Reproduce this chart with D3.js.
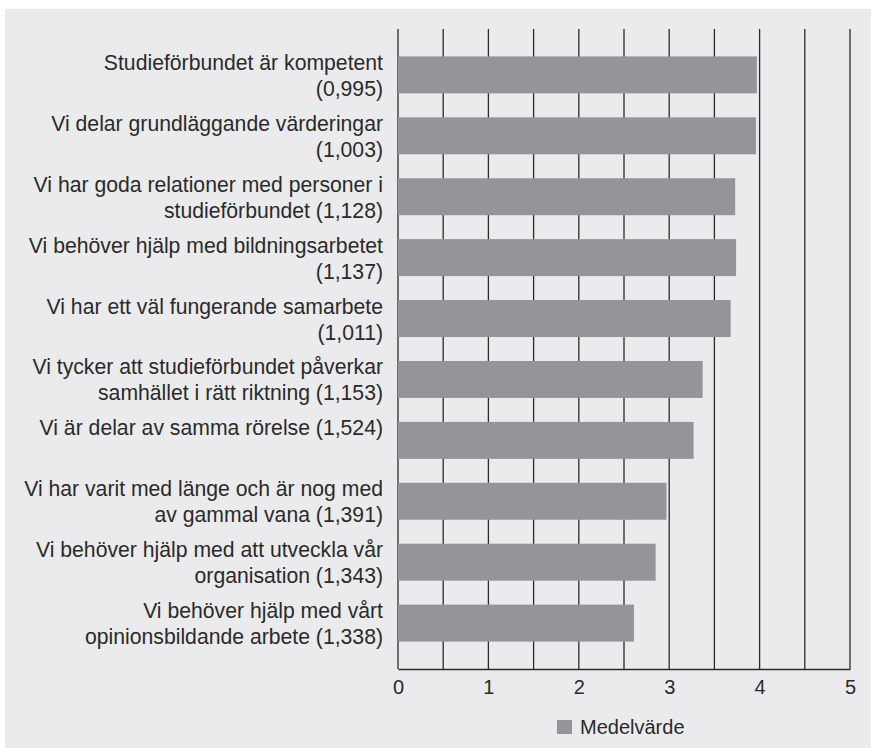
<!DOCTYPE html>
<html>
<head>
<meta charset="utf-8">
<script src="https://cdn.jsdelivr.net/npm/d3@7"></script>
<style>
  body { margin: 0; background: #fff; }
  text { font-family: "Liberation Sans", Arial, sans-serif; fill: #2a2a2a; }
</style>
</head>
<body>
<svg></svg>
<script>
const labels = [
  ['Studieförbundet är kompetent', '(0,995)'],
  ['Vi delar grundläggande värderingar', '(1,003)'],
  ['Vi har goda relationer med personer i', 'studieförbundet (1,128)'],
  ['Vi behöver hjälp med bildningsarbetet', '(1,137)'],
  ['Vi har ett väl fungerande samarbete', '(1,011)'],
  ['Vi tycker att studieförbundet påverkar', 'samhället i rätt riktning (1,153)'],
  ['Vi är delar av samma rörelse (1,524)'],
  ['Vi har varit med länge och är nog med', 'av gammal vana (1,391)'],
  ['Vi behöver hjälp med att utveckla vår', 'organisation (1,343)'],
  ['Vi behöver hjälp med vårt', 'opinionsbildande arbete (1,338)'],
]
const values = [3.97, 3.96, 3.73, 3.74, 3.68, 3.37, 3.27, 2.97, 2.85, 2.61]
const xTicks = [0, 1, 2, 3, 4, 5]
const gridValues = d3.range(0, 5.01, 0.5)
const seriesName = 'Medelvärde'

const W = 871, H = 748
const plot = { left: 398, right: 850, top: 29, bottom: 669 }

const svg = d3.select('svg')
    .attr('width', W)
    .attr('height', H)

svg.append('rect')
    .attr('x', 5).attr('y', 9)
    .attr('width', W - 5).attr('height', H - 9)
    .attr('fill', '#ebebee')

const x = d3.scaleLinear()
    .domain([0, 5])
    .range([plot.left, plot.right])

const y = d3.scaleBand()
    .domain(d3.range(values.length))
    .range([plot.top, plot.bottom])
    .paddingInner(0.393)
    .paddingOuter(0.45)

// vertical grid
svg.append('g')
  .selectAll('line')
    .data(gridValues)
  .enter().append('line')
    .attr('x1', d => x(d)).attr('x2', d => x(d))
    .attr('y1', plot.top).attr('y2', plot.bottom)
    .attr('stroke', '#2b2b2b')
    .attr('stroke-width', 1.3)

svg.append('g')
  .selectAll('rect')
    .data(values)
  .enter().append('rect')
    .attr('x', x(0))
    .attr('y', (d, i) => y(i))
    .attr('width', d => x(d) - x(0))
    .attr('height', y.bandwidth())
    .attr('fill', '#939598')

// x axis
const xAxis = svg.append('g')
    .attr('transform', `translate(0,${plot.bottom})`)
    .call(d3.axisBottom(x).tickValues(xTicks).tickFormat(d3.format('d')).tickSize(0).tickPadding(11))
xAxis.select('.domain').attr('stroke', '#2b2b2b').attr('stroke-width', 1.5)
xAxis.selectAll('text')
    .style('font-family', '"Liberation Sans", Arial, sans-serif')
    .style('font-size', '20px')
    .attr('fill', '#2a2a2a')

// category labels, first line always sits at the same place
const lab = svg.append('g')
  .selectAll('text')
    .data(labels)
  .enter().append('text')
    .attr('text-anchor', 'end')
    .style('font-size', '21.2px')
    .attr('transform', (d, i) => `translate(383,${y(i) + y.bandwidth() / 2})`)

lab.selectAll('tspan')
    .data(d => d)
  .enter().append('tspan')
    .attr('x', 0)
    .attr('y', (d, j) => -5 + j * 26)
    .text(d => d)

// legend
const legend = svg.append('g')
    .attr('transform', 'translate(557,720)')
legend.append('rect')
    .attr('width', 15).attr('height', 14)
    .attr('fill', '#939598')
legend.append('text')
    .attr('x', 23).attr('y', 14)
    .style('font-size', '20px')
    .text(seriesName)
</script>
</body>
</html>
